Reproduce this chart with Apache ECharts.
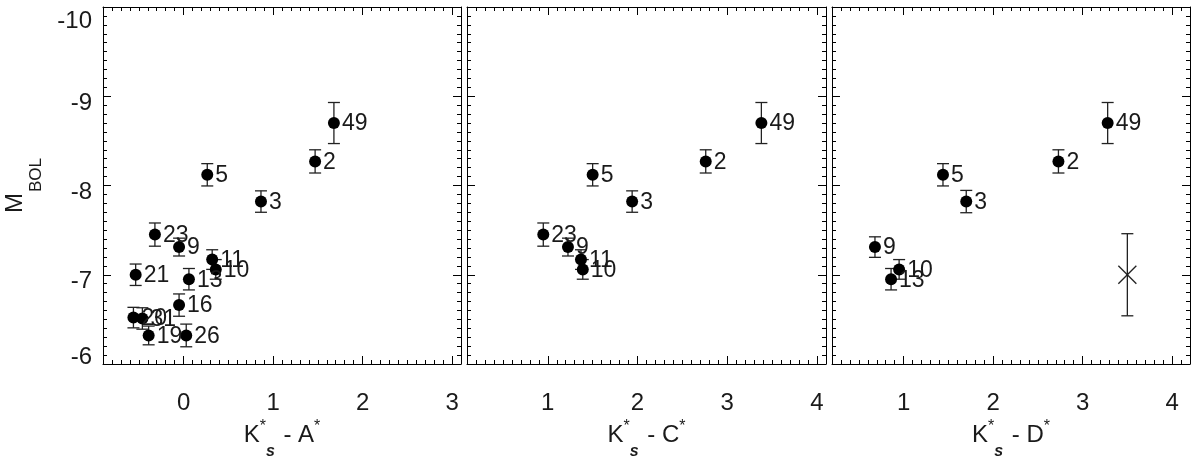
<!DOCTYPE html>
<html>
<head>
<meta charset="utf-8">
<script src="https://cdn.jsdelivr.net/npm/echarts@6/dist/echarts.min.js"></script>
<style>html,body{margin:0;padding:0;background:#fff}#c{width:1200px;height:466px}</style>
</head>
<body>
<div id="c"></div>
<script>
// ---- data ----
const labelsA = ['49','2','5','3','23','9','11','10','21','13','16','20','31','19','26'];
const ksA     = [1.68, 1.47, 0.265, 0.865, -0.32, -0.05, 0.32, 0.36, -0.535, 0.06, -0.05, -0.56, -0.46, -0.39, 0.03];
const mbolA   = [-8.70, -8.27, -8.12, -7.82, -7.45, -7.31, -7.17, -7.06, -7.00, -6.95, -6.66, -6.52, -6.51, -6.32, -6.32];
const errA    = [0.23, 0.13, 0.125, 0.12, 0.13, 0.10, 0.11, 0.11, 0.12, 0.12, 0.125, 0.115, 0.12, 0.105, 0.127];

const labelsC = ['49','2','5','3','23','9','11','10'];
const ksC     = [3.38, 2.76, 1.50, 1.94, 0.95, 1.225, 1.37, 1.39];
const mbolC   = [-8.70, -8.27, -8.12, -7.82, -7.45, -7.31, -7.17, -7.06];
const errC    = [0.23, 0.13, 0.125, 0.12, 0.13, 0.10, 0.11, 0.11];

const labelsD = ['49','2','5','3','9','10','13'];
const ksD     = [3.28, 2.73, 1.44, 1.70, 0.68, 0.95, 0.86];
const mbolD   = [-8.70, -8.27, -8.12, -7.82, -7.31, -7.06, -6.95];
const errD    = [0.23, 0.13, 0.125, 0.125, 0.115, 0.11, 0.12];

const refX = [3.5];
const refY = [-7.0];
const refErr = [0.46];

const ticksA = [0, 1, 2, 3];
const ticksC = [1, 2, 3, 4];
const ticksD = [1, 2, 3, 4];
const titlesX = ['A', 'C', 'D'];

// ---- layout / style ----
const FONT = "'Liberation Sans', Arial, Helvetica, sans-serif";
const TXT = '#1a1a1a';
const panels = [
  {left: 103, width: 358, min: -0.9, max: 3.1, ticks: ticksA, showY: true},
  {left: 467, width: 359, min: 0.1, max: 4.1, ticks: ticksC, showY: false},
  {left: 832, width: 358, min: 0.2, max: 4.2, ticks: ticksD, showY: false}
];
const TOP = 7, HEIGHT = 357;
const line = {color: '#000', width: 1};

const grid = [], xAxis = [], yAxis = [], series = [];

function xTitle(letter) {
  return {
    text: '{k|K}{sup|*}{sub|s}{k| - ' + letter + '}{sup|*}',
    rich: {
      k: {fontSize: 24, fontFamily: FONT, color: TXT, verticalAlign: 'top', padding: [8, 0, 0, 0]},
      sup: {fontSize: 16, fontFamily: FONT, color: TXT, verticalAlign: 'top', padding: [4, 0, 0, 0]},
      sub: {fontSize: 16, fontFamily: FONT, fontWeight: 'bold', fontStyle: 'italic', color: TXT, verticalAlign: 'top', padding: [29, 2, 0, 0]}
    }
  };
}

const yLabelRich = {
  n: {fontSize: 24, fontFamily: FONT, color: TXT, padding: [14, 0, 0, 0]},
  t: {fontSize: 24, fontFamily: FONT, color: TXT, padding: [28, 0, 0, 0]},
  b: {fontSize: 24, fontFamily: FONT, color: TXT, padding: [0, 0, 14, 0]}
};
function yLabelFmt(v) {
  if (v === -10) return '{t|' + v + '}';
  if (v === -6) return '{b|' + v + '}';
  return '{n|' + v + '}';
}

panels.forEach((p, gi) => {
  grid.push({left: p.left, top: TOP, width: p.width, height: HEIGHT, containLabel: false});
  const t = xTitle(titlesX[gi]);
  const xi = xAxis.length;
  xAxis.push({
    gridIndex: gi, type: 'value', position: 'bottom', min: p.min, max: p.max,
    axisLine: {show: true, onZero: false, lineStyle: line},
    axisTick: {show: true, inside: true, length: 8, customValues: p.ticks, lineStyle: line},
    axisLabel: {show: true, customValues: p.ticks, fontSize: 24, fontFamily: FONT, color: TXT, margin: 27},
    splitLine: {show: false},
    name: t.text, nameLocation: 'middle', nameGap: 51, nameMoveOverlap: false,
    nameTextStyle: {rich: t.rich}
  });
  xAxis.push({
    gridIndex: gi, type: 'value', position: 'bottom', min: p.min, max: p.max, interval: 0.1,
    axisLine: {show: false, onZero: false}, axisTick: {show: true, inside: true, length: 4, lineStyle: line},
    axisLabel: {show: false}, splitLine: {show: false}
  });
  xAxis.push({
    gridIndex: gi, type: 'value', position: 'top', min: p.min, max: p.max,
    axisLine: {show: true, onZero: false, lineStyle: line},
    axisTick: {show: true, inside: true, length: 8, customValues: p.ticks, lineStyle: line},
    axisLabel: {show: false}, splitLine: {show: false}
  });
  xAxis.push({
    gridIndex: gi, type: 'value', position: 'top', min: p.min, max: p.max, interval: 0.1,
    axisLine: {show: false, onZero: false}, axisTick: {show: true, inside: true, length: 4, lineStyle: line},
    axisLabel: {show: false}, splitLine: {show: false}
  });
  const yi = yAxis.length;
  yAxis.push({
    gridIndex: gi, type: 'value', position: 'left', min: -10, max: -6, interval: 1, inverse: true,
    axisLine: {show: true, onZero: false, lineStyle: line},
    axisTick: {show: true, inside: true, length: 8, lineStyle: line},
    minorTick: {show: true, splitNumber: 10, length: 4, lineStyle: line},
    axisLabel: {show: p.showY, formatter: yLabelFmt, rich: yLabelRich, margin: 11},
    splitLine: {show: false}, minorSplitLine: {show: false},
    name: p.showY ? '{m|M}{s|BOL}' : '', nameLocation: 'middle', nameRotate: 90, nameGap: 58,
    nameMoveOverlap: false,
    nameTextStyle: {rich: {
      m: {fontSize: 24, fontFamily: FONT, color: TXT, verticalAlign: 'top', padding: [0, 1, 0, 0]},
      s: {fontSize: 17, fontFamily: FONT, color: TXT, verticalAlign: 'top', padding: [25, 0, 0, 0]}
    }}
  });
  yAxis.push({
    gridIndex: gi, type: 'value', position: 'right', min: -10, max: -6, interval: 1, inverse: true,
    axisLine: {show: true, onZero: false, lineStyle: line},
    axisTick: {show: true, inside: true, length: 8, lineStyle: line},
    minorTick: {show: true, splitNumber: 10, length: 4, lineStyle: line},
    axisLabel: {show: false}, splitLine: {show: false}, minorSplitLine: {show: false}
  });
  p.xi = xi; p.yi = yi;
});

const sets = [
  {lab: labelsA, x: ksA, y: mbolA, e: errA},
  {lab: labelsC, x: ksC, y: mbolC, e: errC},
  {lab: labelsD, x: ksD, y: mbolD, e: errD}
];

const errStyle = {stroke: '#222', lineWidth: 1.3};
function barParts(a, b, cap) {
  return [
    {type: 'line', shape: {x1: a[0], y1: a[1], x2: b[0], y2: b[1]}, style: errStyle},
    {type: 'line', shape: {x1: a[0] - cap, y1: a[1], x2: a[0] + cap, y2: a[1]}, style: errStyle},
    {type: 'line', shape: {x1: b[0] - cap, y1: b[1], x2: b[0] + cap, y2: b[1]}, style: errStyle}
  ];
}
function errRender(params, api) {
  const x = api.value(0), y = api.value(1), e = api.value(2);
  const a = api.coord([x, y - e]), b = api.coord([x, y + e]);
  return {type: 'group', children: barParts(a, b, 6)};
}

sets.forEach((s, gi) => {
  const p = panels[gi];
  series.push({
    type: 'custom', xAxisIndex: p.xi, yAxisIndex: p.yi, z: 2, silent: true,
    renderItem: errRender, encode: {x: 0, y: 1},
    data: s.x.map((v, i) => [v, s.y[i], s.e[i]])
  });
  series.push({
    type: 'scatter', xAxisIndex: p.xi, yAxisIndex: p.yi, z: 3, silent: true,
    symbol: 'circle', symbolSize: 12, itemStyle: {color: '#000', opacity: 1},
    label: {show: true, position: 'right', distance: 2, offset: [0, 1], formatter: '{b}',
      fontSize: 23, fontFamily: FONT, color: TXT, opacity: 1},
    data: s.x.map((v, i) => ({name: s.lab[i], value: [v, s.y[i]]}))
  });
});

series.push({
  type: 'custom', xAxisIndex: panels[2].xi, yAxisIndex: panels[2].yi, z: 2, silent: true,
  encode: {x: 0, y: 1},
  renderItem: function (params, api) {
    const x = api.value(0), y = api.value(1), e = api.value(2);
    const c = api.coord([x, y]);
    const a = api.coord([x, y - e]), b = api.coord([x, y + e]);
    const h = 9;
    const parts = barParts(a, b, 6);
    parts.push({type: 'line', shape: {x1: c[0] - h, y1: c[1] - h, x2: c[0] + h, y2: c[1] + h}, style: errStyle});
    parts.push({type: 'line', shape: {x1: c[0] - h, y1: c[1] + h, x2: c[0] + h, y2: c[1] - h}, style: errStyle});
    return {type: 'group', children: parts};
  },
  data: refX.map((v, i) => [v, refY[i], refErr[i]])
});

const chart = echarts.init(document.getElementById('c'), null, {renderer: 'canvas'});
chart.setOption({
  backgroundColor: '#fff',
  animation: false,
  grid: grid,
  xAxis: xAxis,
  yAxis: yAxis,
  series: series
});
</script>
</body>
</html>
